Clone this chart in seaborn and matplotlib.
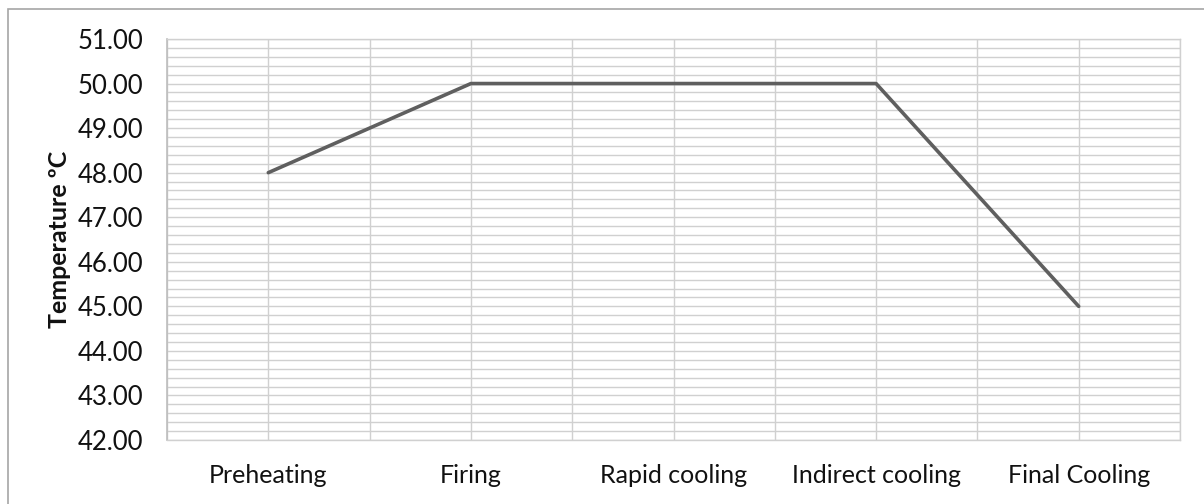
import matplotlib
matplotlib.use("Agg")
import matplotlib.pyplot as plt
from matplotlib.patches import Rectangle
from matplotlib.ticker import MultipleLocator, FormatStrFormatter, FixedLocator
import pandas as pd
import seaborn as sns

# Kiln stages and the measured temperature at each stage
stages = ["Preheating", "Firing", "Rapid cooling", "Indirect cooling", "Final Cooling"]
temperature = [48.0, 50.0, 50.0, 50.0, 45.0]
y_ticks = [42, 43, 44, 45, 46, 47, 48, 49, 50, 51]

sns.set_theme(style="white")
plt.rcParams["font.family"] = ["Lato", "DejaVu Sans"]

df = pd.DataFrame({"Stage": stages, "Temperature": temperature})

fig = plt.figure(figsize=(12.04, 5.04), dpi=100)
ax = fig.add_axes([167 / 1204, 1 - 440 / 504, (1180 - 167) / 1204, (440 - 39) / 504])

grid_color = "#d0d0d0"
sns.lineplot(data=df, x="Stage", y="Temperature", ax=ax, color="#5f5f5f",
             linewidth=2.6, sort=False, zorder=3)

ax.set_xlim(-0.5, len(stages) - 0.5)
ax.set_ylim(y_ticks[0], y_ticks[-1])

ax.yaxis.set_major_locator(FixedLocator(y_ticks))
ax.yaxis.set_major_formatter(FormatStrFormatter("%.2f"))
ax.yaxis.set_minor_locator(MultipleLocator(0.2))
ax.xaxis.set_minor_locator(MultipleLocator(0.5))

ax.grid(True, which="both", color=grid_color, linewidth=1.0, zorder=0)
ax.set_axisbelow(True)
ax.tick_params(axis="both", which="both", length=0)
ax.tick_params(axis="y", labelsize=18.5, pad=17, labelcolor="#111111")
ax.tick_params(axis="x", labelsize=18, pad=17, labelcolor="#111111")

for side in ["top", "right", "bottom"]:
    ax.spines[side].set_color(grid_color)
    ax.spines[side].set_linewidth(1.0)
ax.spines["left"].set_color("#bdbdbd")
ax.spines["left"].set_linewidth(1.2)

ax.set_xlabel("")
ax.set_ylabel("Temperature ºC", fontsize=18, fontweight="bold", labelpad=5,
              color="#111111")

# Outer chart border
fig.patches.append(Rectangle((8 / 1204, -0.1), 1.2, 1 - 9 / 504 + 0.1,
                             transform=fig.transFigure, fill=False,
                             edgecolor="#a6a6a6", linewidth=1.2))

fig.savefig("out.png", dpi=100)
